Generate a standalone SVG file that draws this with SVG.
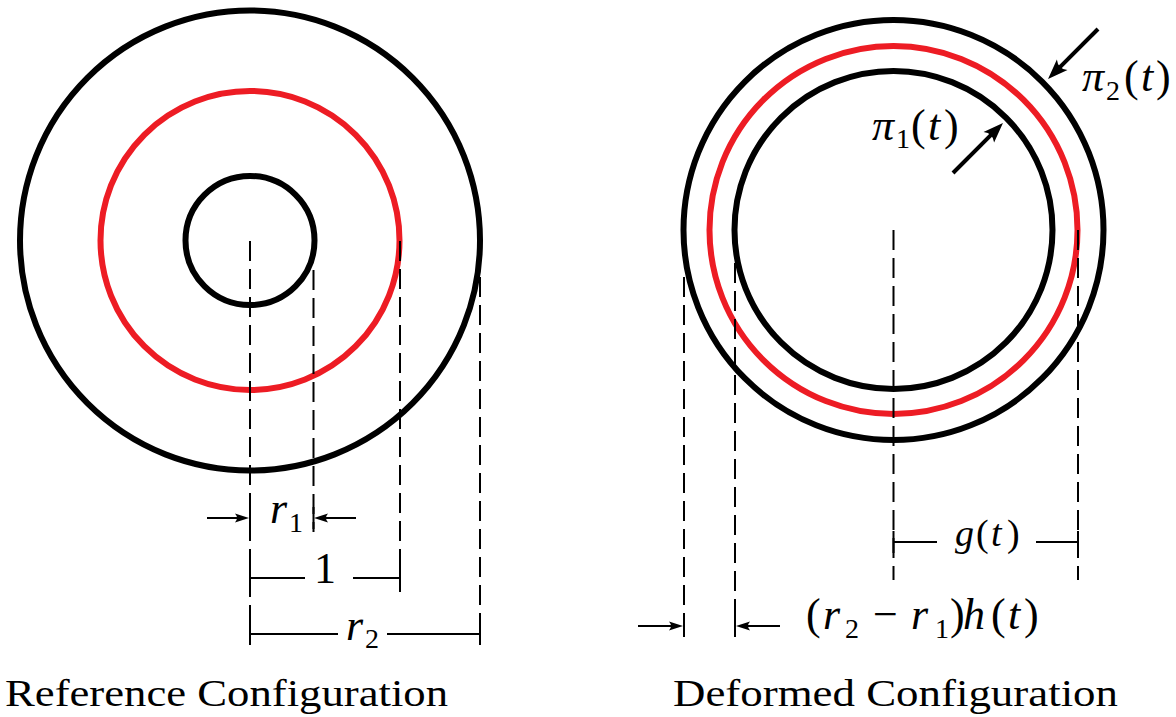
<svg xmlns="http://www.w3.org/2000/svg" width="1176" height="717" viewBox="0 0 1176 717">
<style>
.bk{fill:none;stroke:#000;stroke-width:6}
.rd{fill:none;stroke:#ED1C24;stroke-width:6}
.ds{fill:none;stroke:#000;stroke-width:2;stroke-dasharray:20 8}
.dim{fill:none;stroke:#000;stroke-width:2}
.pa{fill:none;stroke:#000;stroke-width:4}
.m{font-size:44px}
.i{font-style:italic}
.s{font-size:28px}
.cap{font-size:37px}
</style>
<defs>
<marker id="ah" markerUnits="userSpaceOnUse" viewBox="0 -6 16 12" markerWidth="16" markerHeight="12" refX="10" refY="0" orient="auto" overflow="visible">
<path d="M14,0 L0,-4.5 Q4,0 0,4.5 Z" fill="#000"/>
</marker>
<marker id="ahb" markerUnits="userSpaceOnUse" viewBox="0 -8 22 16" markerWidth="22" markerHeight="16" refX="12" refY="0" orient="auto" overflow="visible">
<path d="M20,0 L0,-7.5 Q6,0 0,7.5 Z" fill="#000"/>
</marker>
</defs>

<g id="reference">
<circle class="bk" cx="250" cy="240.5" r="230"/>
<circle class="rd" cx="250" cy="240.5" r="149.5"/>
<circle class="bk" cx="250" cy="240.5" r="64.5"/>
</g>

<g id="deformed">
<circle class="bk" cx="893.5" cy="230" r="210"/>
<circle class="rd" cx="893.5" cy="230" r="184"/>
<circle class="bk" cx="893.5" cy="230" r="159"/>
</g>

<g id="connectors">
<line class="ds" x1="250" y1="241" x2="250" y2="643"/>
<line class="ds" x1="313.5" y1="270" x2="313.5" y2="532"/>
<line class="ds" x1="400" y1="241" x2="400" y2="592"/>
<line class="ds" x1="480" y1="277" x2="480" y2="643"/>
<line class="ds" x1="684" y1="277" x2="684" y2="630"/>
<line class="ds" x1="735" y1="263" x2="735" y2="633"/>
<line class="ds" x1="893.5" y1="230" x2="893.5" y2="580"/>
<line class="ds" x1="1078" y1="230" x2="1078" y2="580"/>

<line class="dim" x1="207" y1="518" x2="245" y2="518" marker-end="url(#ah)"/>
<line class="dim" x1="356" y1="518" x2="318" y2="518" marker-end="url(#ah)"/>
<line class="dim" x1="250" y1="507" x2="250" y2="529"/>
<line class="dim" x1="313.5" y1="507" x2="313.5" y2="529"/>

<path class="dim" d="M250,578 H305 M353,578 H400 M250,567 V589 M400,567 V589"/>
<path class="dim" d="M250,634 H338 M387,634 H480 M250,623 V645 M480,623 V645"/>
<path class="dim" d="M893.5,542 H937 M1036,542 H1078 M893.5,531 V553 M1078,531 V553"/>

<line class="dim" x1="638" y1="626" x2="679" y2="626" marker-end="url(#ah)"/>
<line class="dim" x1="780" y1="626" x2="740" y2="626" marker-end="url(#ah)"/>
<line class="dim" x1="684" y1="615" x2="684" y2="637"/>
<line class="dim" x1="735" y1="615" x2="735" y2="637"/>

<line class="pa" x1="1098" y1="29" x2="1053.7" y2="73.3" marker-end="url(#ahb)"/>
<line class="pa" x1="953" y1="173" x2="997.3" y2="128.7" marker-end="url(#ahb)"/>
</g>

<g id="labels" font-family="Liberation Serif, Times New Roman, serif">
<text class="m"><tspan class="i" x="270" y="523">r</tspan><tspan class="s" x="289" y="532">1</tspan></text>
<text class="m" x="325" y="583" text-anchor="middle">1</text>
<text class="m"><tspan class="i" x="346" y="640">r</tspan><tspan class="s" x="365" y="648">2</tspan></text>
<text style="font-size:38px"><tspan class="i" x="955" y="546">g</tspan><tspan x="976" y="546">(</tspan><tspan class="i" x="991" y="546">t</tspan><tspan x="1007" y="546">)</tspan></text>
<text class="m"><tspan x="806" y="629">(</tspan><tspan class="i" x="823" y="629">r</tspan><tspan class="s" x="845" y="638">2</tspan><tspan x="873" y="629">−</tspan><tspan class="i" x="911" y="629">r</tspan><tspan class="s" x="935" y="638">1</tspan><tspan x="950" y="629">)</tspan><tspan class="i" x="963" y="629">h</tspan><tspan x="991" y="629">(</tspan><tspan class="i" x="1008" y="629">t</tspan><tspan x="1024" y="629">)</tspan></text>
<text class="m"><tspan class="i" x="872" y="140">π</tspan><tspan class="s" x="896" y="148">1</tspan><tspan x="911" y="140">(</tspan><tspan class="i" x="928" y="140">t</tspan><tspan x="944" y="140">)</tspan></text>
<text class="m"><tspan class="i" x="1082" y="91">π</tspan><tspan class="s" x="1106" y="100">2</tspan><tspan x="1124" y="91">(</tspan><tspan class="i" x="1141" y="91">t</tspan><tspan x="1156" y="91">)</tspan></text>
<text class="cap" x="5" y="706" textLength="443" lengthAdjust="spacingAndGlyphs">Reference Configuration</text>
<text class="cap" x="673" y="706" textLength="445" lengthAdjust="spacingAndGlyphs">Deformed Configuration</text>
</g>
</svg>
